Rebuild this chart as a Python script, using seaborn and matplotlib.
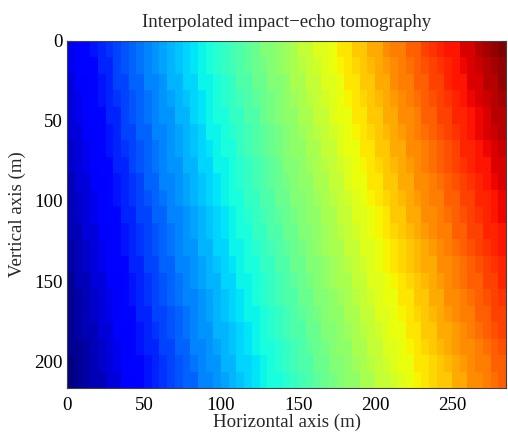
import numpy as np
import matplotlib
matplotlib.use("Agg")
import matplotlib.pyplot as plt
import seaborn as sns

# axis extents (m) and tick values
x_max = 285
y_max = 217
x_ticks = [0, 50, 100, 150, 200, 250]
y_ticks = [0, 50, 100, 150, 200]

# interpolated field, in % of the colour scale
# rows go down in depth, columns go across the horizontal axis
field = [
    [10,12,13,15,16,18,20,21,23,24,26,27,29,31,32,34,35,37,39,40,42,43,45,46,48,50,51,53,54,56,58,59,61,62,64,66,67,69,70,72,73,75,77,78,80,81,83,85,86,88,89,91,92,94,96,97,99],
    [10,11,13,14,16,17,19,21,22,24,25,27,29,30,32,33,35,36,38,40,41,43,44,46,47,49,51,52,54,55,57,58,60,62,63,65,66,68,69,71,73,74,76,77,79,81,82,84,85,87,88,90,92,93,95,96,98],
    [9,11,12,14,15,17,19,20,22,23,25,26,28,30,31,33,34,36,37,39,40,42,44,45,47,48,50,51,53,55,56,58,59,61,62,64,66,67,69,70,72,73,75,77,78,80,81,83,84,86,88,89,91,92,94,95,97],
    [9,10,12,13,15,16,18,20,21,23,24,26,27,29,30,32,34,35,37,38,40,41,43,45,46,48,49,51,52,54,55,57,59,60,62,63,65,66,68,69,71,73,74,76,77,79,80,82,84,85,87,88,90,91,93,94,96],
    [8,10,11,13,14,16,17,19,21,22,24,25,27,28,30,31,33,35,36,38,39,41,42,44,45,47,49,50,52,53,55,56,58,59,61,63,64,66,67,69,70,72,73,75,76,78,80,81,83,84,86,87,89,90,92,94,95],
    [8,9,11,12,14,15,17,19,20,22,23,25,26,28,29,31,32,34,36,37,39,40,42,43,45,46,48,49,51,53,54,56,57,59,60,62,63,65,66,68,69,71,73,74,76,77,79,80,82,83,85,86,88,90,91,93,94],
    [7,9,10,12,13,15,16,18,20,21,23,24,26,27,29,30,32,33,35,36,38,39,41,43,44,46,47,49,50,52,53,55,56,58,59,61,63,64,66,67,69,70,72,73,75,76,78,79,81,82,84,86,87,89,90,92,93],
    [7,8,10,11,13,14,16,17,19,21,22,24,25,27,28,30,31,33,34,36,37,39,40,42,43,45,46,48,50,51,53,54,56,57,59,60,62,63,65,66,68,69,71,72,74,76,77,79,80,82,83,85,86,88,89,91,92],
    [6,8,9,11,12,14,15,17,18,20,22,23,25,26,28,29,31,32,34,35,37,38,40,41,43,44,46,47,49,50,52,53,55,56,58,59,61,63,64,66,67,69,70,72,73,75,76,78,79,81,82,84,85,87,88,90,91],
    [6,7,9,10,12,13,15,16,18,19,21,22,24,25,27,29,30,32,33,35,36,38,39,41,42,44,45,47,48,50,51,53,54,56,57,59,60,62,63,65,66,68,69,71,72,74,75,77,78,80,81,83,84,86,87,89,90],
    [5,7,8,10,11,13,14,16,17,19,20,22,23,25,26,28,29,31,32,34,35,37,38,40,41,43,44,46,47,49,50,52,53,55,56,58,59,61,62,64,65,67,69,70,72,73,75,76,78,79,81,82,84,85,87,88,90],
    [5,6,8,9,11,12,14,15,17,18,20,21,23,24,26,27,29,30,32,33,35,36,38,39,41,42,44,45,47,48,50,51,53,54,56,57,59,60,62,63,65,66,68,69,71,72,74,75,77,78,80,81,83,84,86,87,89],
    [4,6,7,9,10,12,13,15,16,18,19,21,22,24,25,27,28,30,31,33,34,36,37,39,40,42,43,45,46,48,49,51,52,54,55,56,58,59,61,62,64,65,67,68,70,71,73,74,76,77,79,80,82,83,85,86,88],
    [4,5,7,8,10,11,13,14,16,17,19,20,22,23,25,26,28,29,31,32,34,35,37,38,39,41,42,44,45,47,48,50,51,53,54,56,57,59,60,62,63,65,66,68,69,71,72,73,75,76,78,79,81,82,84,85,87],
    [3,5,6,8,9,11,12,14,15,17,18,20,21,23,24,26,27,29,30,31,33,34,36,37,39,40,42,43,45,46,48,49,51,52,54,55,56,58,59,61,62,64,65,67,68,70,71,73,74,76,77,79,80,81,83,84,86],
    [3,4,6,7,9,10,12,13,15,16,18,19,21,22,24,25,26,28,29,31,32,34,35,37,38,40,41,43,44,45,47,48,50,51,53,54,56,57,59,60,62,63,64,66,67,69,70,72,73,75,76,78,79,81,82,84,85],
    [3,4,5,7,8,10,11,13,14,16,17,19,20,21,23,24,26,27,29,30,32,33,35,36,37,39,40,42,43,45,46,48,49,51,52,53,55,56,58,59,61,62,64,65,67,68,69,71,72,74,75,77,78,80,81,83,84],
    [2,4,5,6,8,9,11,12,14,15,17,18,19,21,22,24,25,27,28,30,31,32,34,35,37,38,40,41,43,44,45,47,48,50,51,53,54,56,57,58,60,61,63,64,66,67,69,70,72,73,74,76,77,79,80,82,83],
    [2,3,4,6,7,9,10,12,13,15,16,17,19,20,22,23,25,26,28,29,30,32,33,35,36,38,39,40,42,43,45,46,48,49,51,52,53,55,56,58,59,61,62,63,65,66,68,69,71,72,74,75,76,78,79,81,82],
    [1,3,4,5,7,8,10,11,13,14,15,17,18,20,21,23,24,25,27,28,30,31,33,34,35,37,38,40,41,43,44,45,47,48,50,51,53,54,55,57,58,60,61,63,64,66,67,68,70,71,73,74,76,77,78,80,81],
    [1,2,4,5,6,8,9,11,12,13,15,16,18,19,21,22,23,25,26,28,29,31,32,33,35,36,38,39,40,42,43,45,46,48,49,50,52,53,55,56,58,59,60,62,63,65,66,68,69,70,72,73,75,76,77,79,80],
]

grid = np.array(field, dtype=float)
nrows, ncols = grid.shape

sns.set_style("ticks")
plt.rcParams["font.family"] = ["Liberation Serif", "DejaVu Serif"]
fs = 13.6

fig = plt.figure(figsize=(5.08, 4.34), dpi=100)
ax = fig.add_axes([0.132, 0.105, 0.864, 0.801])
sns.heatmap(grid, ax=ax, cmap=matplotlib.colormaps["jet"].resampled(64),
            vmin=0, vmax=100, cbar=False, xticklabels=False, yticklabels=False)

ax.set_xticks([t * ncols / x_max for t in x_ticks])
ax.set_xticklabels(x_ticks)
ax.set_yticks([t * nrows / y_max for t in y_ticks])
ax.set_yticklabels(y_ticks, rotation=0)
for s in ax.spines.values():
    s.set_visible(True)
    s.set_linewidth(0.8)
    s.set_color("#404040")
ax.tick_params(direction="in", top=True, right=True, length=3.5, width=0.8,
               color="#404040", labelsize=fs, labelcolor="black")
ax.tick_params(axis="x", pad=6)
ax.tick_params(axis="y", pad=3)

ax.set_title("Interpolated impact\u2212echo tomography", fontsize=fs, pad=10)
ax.set_xlabel("Horizontal axis (m)", fontsize=fs, labelpad=0)
ax.set_ylabel("Vertical axis (m)", fontsize=fs, labelpad=6)

fig.savefig("out.png", dpi=100)
